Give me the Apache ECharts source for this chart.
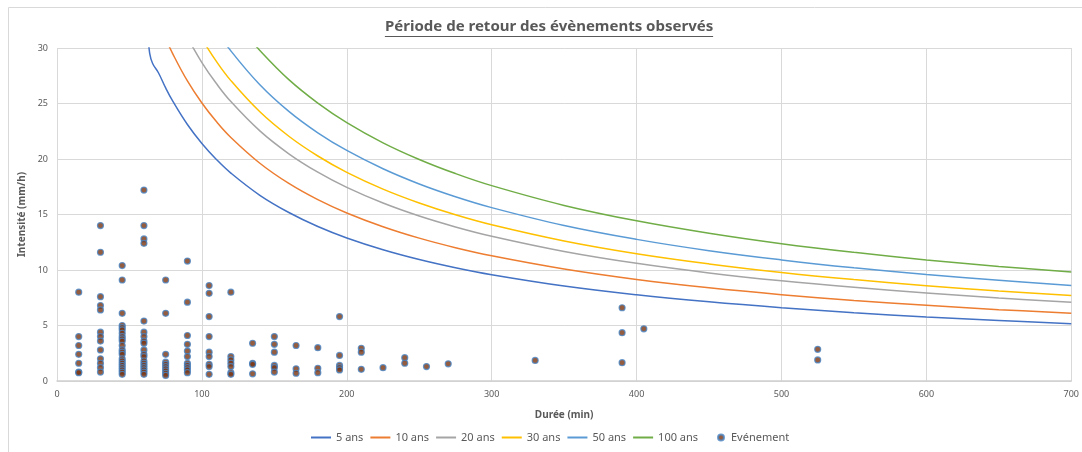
<!DOCTYPE html>
<html>
<head>
<meta charset="utf-8">
<script src="https://cdn.jsdelivr.net/npm/echarts@6/dist/echarts.min.js"></script>
<style>html,body{margin:0;padding:0;background:#fff}#c{width:1082px;height:452px}</style>
</head>
<body>
<div id="c"></div>
<script>
// ---- Data ----
const seriesNames = ['5 ans', '10 ans', '20 ans', '30 ans', '50 ans', '100 ans'];
const lineColors = ['#4472c4', '#ed7d31', '#a5a5a5', '#ffc000', '#5b9bd5', '#70ad47'];

const dur5 = [63, 64, 66, 70, 75, 80, 90, 100, 110, 120, 140, 160, 180, 200, 225, 250, 275, 300, 350, 400, 450, 500, 550, 600, 650, 700];
const val5 = [31, 29.5, 28.6, 27.77, 26.40, 25.19, 23.11, 21.40, 19.96, 18.73, 16.73, 15.18, 13.92, 12.89, 11.83, 10.95, 10.21, 9.58, 8.56, 7.77, 7.13, 6.60, 6.15, 5.77, 5.45, 5.16];

const dur10 = [70, 75, 80, 90, 100, 110, 120, 140, 160, 180, 200, 225, 250, 275, 300, 350, 400, 450, 500, 550, 600, 650, 700];
const val10 = [32.44, 30.86, 29.45, 27.03, 25.04, 23.37, 21.94, 19.62, 17.80, 16.34, 15.14, 13.90, 12.87, 12.01, 11.28, 10.09, 9.15, 8.40, 7.78, 7.26, 6.82, 6.43, 6.10];

const dur20 = [85, 90, 100, 110, 120, 140, 160, 180, 200, 225, 250, 275, 300, 350, 400, 450, 500, 550, 600, 650, 700];
const val20 = [32.24, 30.95, 28.69, 26.80, 25.17, 22.53, 20.47, 18.81, 17.44, 16.03, 14.86, 13.88, 13.04, 11.67, 10.60, 9.74, 9.03, 8.44, 7.93, 7.48, 7.10];

const dur30 = [95, 100, 110, 120, 140, 160, 180, 200, 225, 250, 275, 300, 350, 400, 450, 500, 550, 600, 650, 700];
const val30 = [31.97, 30.82, 28.79, 27.06, 24.25, 22.05, 20.27, 18.80, 17.29, 16.04, 14.98, 14.08, 12.62, 11.47, 10.55, 9.78, 9.14, 8.59, 8.11, 7.70];

const dur50 = [110, 120, 140, 160, 180, 200, 225, 250, 275, 300, 350, 400, 450, 500, 550, 600, 650, 700];
const val50 = [31.61, 29.74, 26.69, 24.29, 22.36, 20.77, 19.12, 17.75, 16.60, 15.62, 14.01, 12.76, 11.74, 10.91, 10.20, 9.59, 9.07, 8.61];

const dur100 = [130, 140, 160, 180, 200, 225, 250, 275, 300, 350, 400, 450, 500, 550, 600, 650, 700];
const val100 = [31.34, 29.78, 27.15, 25.04, 23.28, 21.46, 19.96, 18.69, 17.60, 15.82, 14.43, 13.31, 12.37, 11.59, 10.91, 10.32, 9.81];

const eventDuration = [
  15,15,15,15,15,15,15,
  30,30,30,30,30,30,30,30,30,30,30,30,30,
  45,45,45,45,45,45,45,45,45,45,45,45,45,45,45,45,45,45,45,45,45,45,
  60,60,60,60,60,60,60,60,60,60,60,60,60,60,60,60,60,60,60,
  75,75,75,75,75,75,75,75,75,75,
  90,90,90,90,90,90,90,90,90,90,90,
  105,105,105,105,105,105,105,105,105,
  120,120,120,120,120,120,120,
  135,135,135,135,
  150,150,150,150,150,150,
  165,165,165,
  180,180,180,
  195,195,195,195,195,
  210,210,210,
  225,
  240,240,
  255,
  270,
  330,
  390,390,390,
  405,
  525,525
];
const eventIntensity = [
  8, 4, 3.2, 2.4, 1.6, 0.8, 0.75,
  14, 11.6, 7.6, 6.8, 6.4, 4.4, 4.0, 3.6, 2.8, 2.0, 1.6, 1.2, 0.8,
  10.4, 9.1, 6.1, 5.0, 4.8, 4.6, 4.3, 4.0, 3.8, 3.6, 3.2, 2.8, 2.6, 2.4, 2.0, 1.8, 1.6, 1.4, 1.2, 1.0, 0.8, 0.6,
  17.2, 14.0, 12.8, 12.4, 5.4, 4.4, 4.0, 3.6, 3.4, 2.8, 2.4, 2.2, 1.8, 1.6, 1.4, 1.2, 1.0, 0.8, 0.6,
  9.1, 6.1, 2.4, 1.7, 1.5, 1.3, 1.1, 0.9, 0.7, 0.5,
  10.8, 7.1, 4.1, 3.3, 2.7, 2.2, 1.6, 1.4, 1.2, 1.0, 0.75,
  8.6, 7.9, 5.8, 4.0, 2.6, 2.2, 1.5, 1.3, 0.6,
  8.0, 2.2, 1.9, 1.6, 1.3, 0.75, 0.6,
  3.4, 1.6, 1.5, 0.65,
  4.0, 3.3, 2.6, 1.4, 1.2, 0.8,
  3.2, 1.1, 0.7,
  3.0, 1.15, 0.75,
  5.8, 2.3, 1.4, 1.2, 1.0,
  2.95, 2.6, 1.05,
  1.2,
  2.1, 1.6,
  1.3,
  1.55,
  1.85,
  6.6, 4.35, 1.65,
  4.7,
  2.85, 1.9
];
const eventName = 'Evénement';
const titleText = 'Période de retour des évènements observés';
const xTicks = { min: 0, max: 700, interval: 100 };
const yTicks = { min: 0, max: 30, interval: 5 };

// ---- Build chart ----
const curveDur = [dur5, dur10, dur20, dur30, dur50, dur100];
const curveVal = [val5, val10, val20, val30, val50, val100];
const FONT = 'Noto Sans';
const TXT = '#595959';

const series = seriesNames.map((n, i) => ({
  name: n,
  type: 'line',
  data: curveDur[i].map((d, k) => [d, curveVal[i][k]]),
  symbol: 'none',
  showSymbol: false,
  smooth: 0.4,
  clip: true,
  lineStyle: { color: lineColors[i], width: 1.5 },
  itemStyle: { color: lineColors[i] },
  z: 2
}));
series.push({
  name: eventName,
  type: 'scatter',
  data: eventDuration.map((d, k) => [d, eventIntensity[k]]),
  symbolSize: 6,
  itemStyle: { color: '#7a3510', borderColor: '#4a86c5', borderWidth: 1.2 },
  z: 3
});

const ctx = document.createElement('canvas').getContext('2d');
ctx.font = 'bold 15px "' + FONT + '"';
const tw = ctx.measureText(titleText).width;
const titleCenter = 549;

const chart = echarts.init(document.getElementById('c'), null, { renderer: 'canvas' });
chart.setOption({
  animation: false,
  backgroundColor: '#fff',
  textStyle: { fontFamily: FONT },
  title: {
    text: titleText,
    left: Math.round(titleCenter - tw / 2) - 5,
    top: 14,
    textStyle: { fontFamily: FONT, fontSize: 15, fontWeight: 'bold', color: TXT }
  },
  legend: [
    {
      left: 306,
      bottom: 4,
      itemWidth: 20,
      itemHeight: 2,
      itemGap: 7,
      icon: 'rect',
      textStyle: { fontFamily: FONT, fontSize: 11, color: TXT },
      data: seriesNames
    },
    {
      left: 712,
      bottom: 4,
      itemWidth: 10,
      itemHeight: 6,
      icon: 'circle',
      textStyle: { fontFamily: FONT, fontSize: 11, color: TXT },
      data: [eventName]
    }
  ],
  grid: { left: 57, right: 9, top: 48, bottom: 71 },
  xAxis: {
    type: 'value',
    min: xTicks.min, max: xTicks.max, interval: xTicks.interval,
    name: 'Durée (min)',
    nameLocation: 'middle',
    nameGap: 29,
    nameTextStyle: { fontFamily: FONT, fontSize: 10, fontWeight: 'bold', color: TXT },
    axisLine: { show: true, lineStyle: { color: '#cfcfcf', width: 1.5 } },
    axisTick: { show: false },
    axisLabel: { fontFamily: FONT, fontSize: 9, color: TXT, margin: 9 },
    splitLine: { show: true, lineStyle: { color: '#d9d9d9', width: 1 } }
  },
  yAxis: {
    type: 'value',
    min: yTicks.min, max: yTicks.max, interval: yTicks.interval,
    name: 'Intensité (mm/h)',
    nameLocation: 'middle',
    nameGap: 28,
    nameTextStyle: { fontFamily: FONT, fontSize: 10, fontWeight: 'bold', color: TXT },
    axisLine: { show: false },
    axisTick: { show: false },
    axisLabel: { fontFamily: FONT, fontSize: 9, color: TXT, margin: 9 },
    splitLine: { show: true, lineStyle: { color: '#d9d9d9', width: 1 } }
  },
  graphic: [
    { type: 'rect', shape: { x: 8.5, y: 7.5, width: 1100, height: 480 }, style: { fill: null, stroke: '#d9d9d9', lineWidth: 1 }, silent: true, z: -10 },
    { type: 'line', shape: { x1: titleCenter - tw / 2, y1: 36.5, x2: titleCenter + tw / 2, y2: 36.5 }, style: { stroke: TXT, lineWidth: 1 }, silent: true }
  ],
  series: series
});
</script>
</body>
</html>
